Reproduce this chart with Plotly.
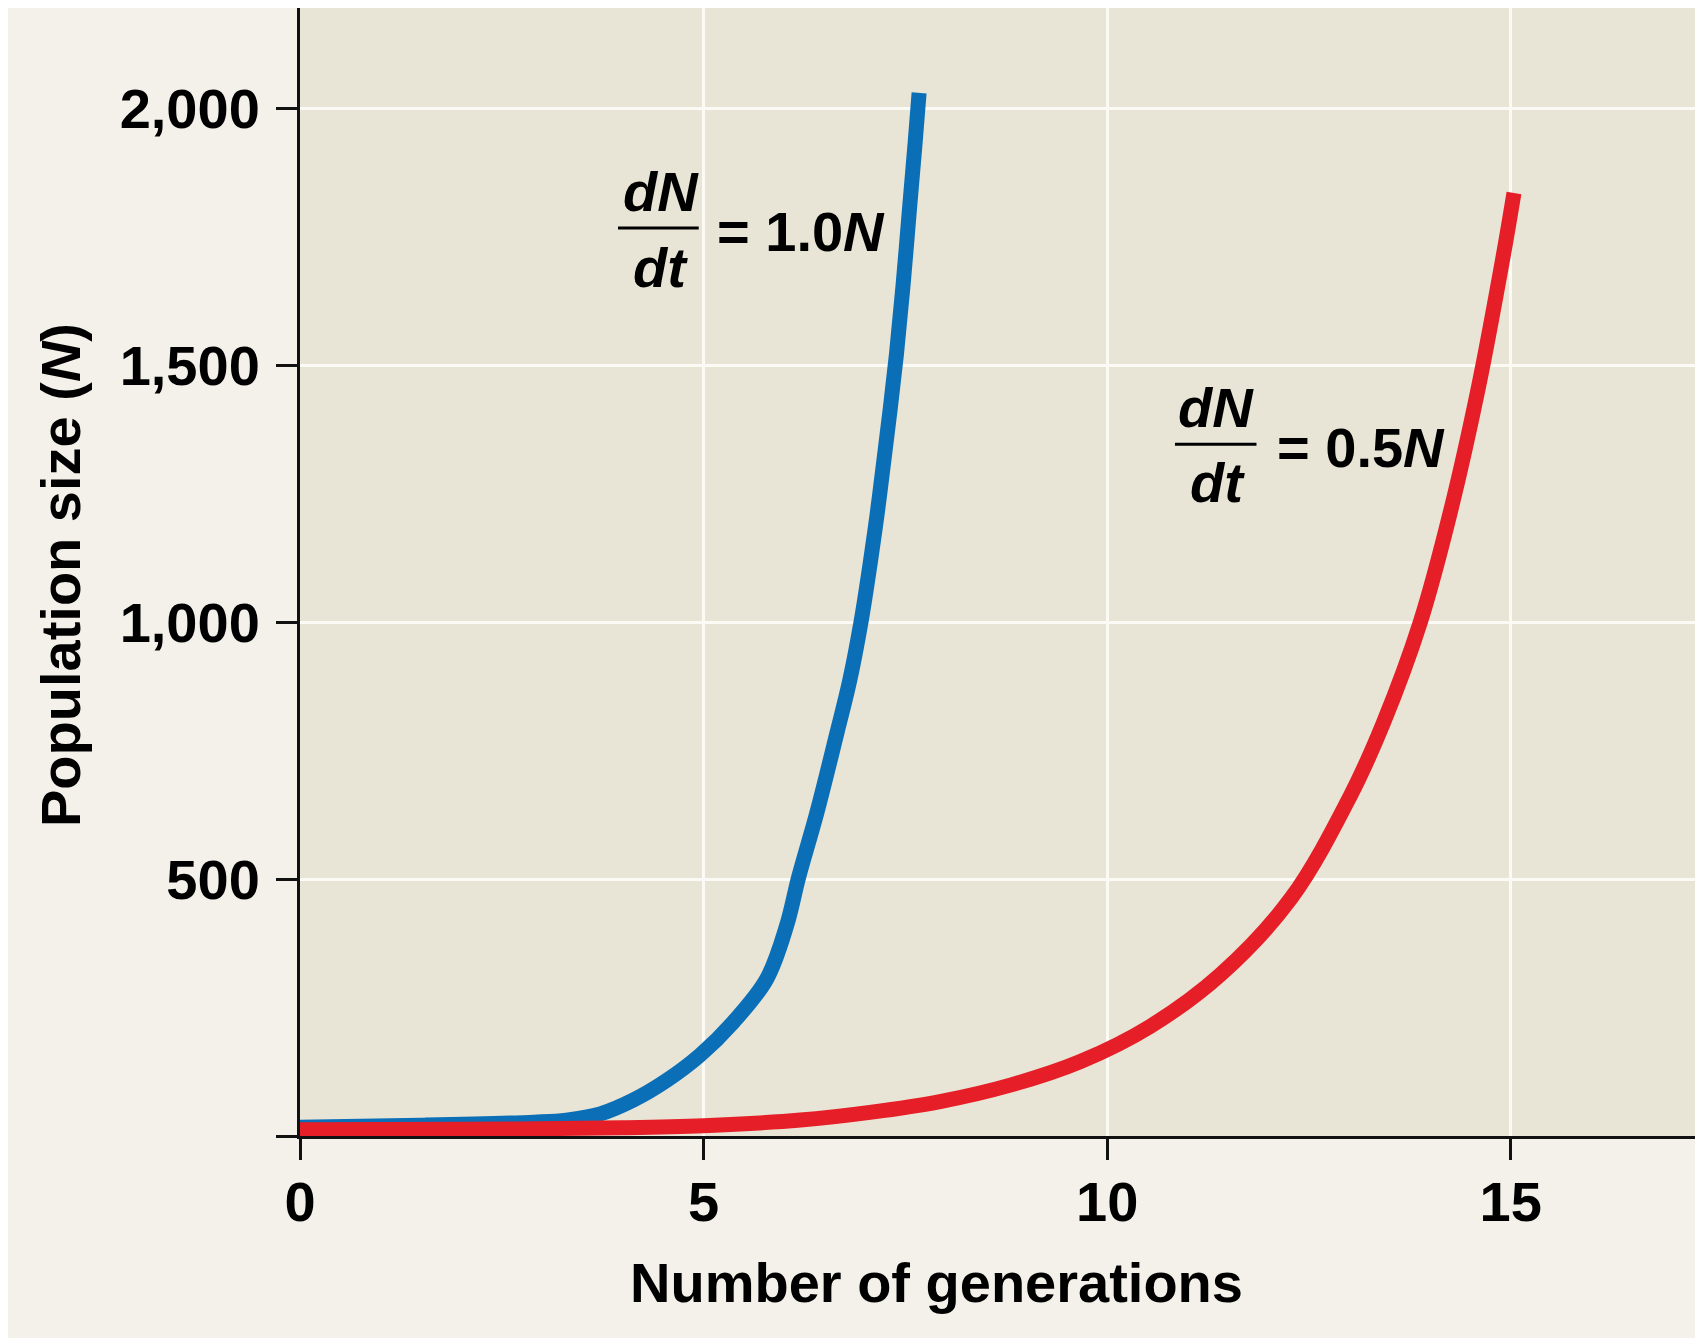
import plotly.graph_objects as go

# ---- data ----
blue_x = [0, 1.5, 2.9, 3.3, 3.72, 4.13, 4.54, 4.96, 5.37, 5.78, 6.03, 6.18, 6.40, 6.65,
          6.81, 6.95, 7.06, 7.15, 7.23, 7.31, 7.39, 7.47, 7.55, 7.62, 7.67]
blue_y = [17, 21, 27, 31, 43, 70, 108, 158, 222, 305, 410, 505, 627, 783,
          886, 1000, 1110, 1210, 1310, 1412, 1522, 1653, 1802, 1931, 2030]

red_x = [0, 2, 4, 5, 6.2, 7.06, 7.93, 8.8, 9.67, 10.54, 11.41, 12.28, 13.01, 13.42,
         13.88, 14.25, 14.6, 14.91, 15.04]
red_y = [12, 13, 16, 20, 31, 46, 67, 99, 145, 214, 315, 463, 661, 803,
         1000, 1213, 1457, 1715, 1835]

x_ticks = [0, 5, 10, 15]
x_tick_labels = ["0", "5", "10", "15"]
y_ticks = [0, 500, 1000, 1500, 2000]
y_tick_labels = ["", "500", "1,000", "1,500", "2,000"]

x_title = "Number of generations"
y_title = "Population size (<i>N</i>)"
label_fast = "= 1.0<i>N</i>"
label_slow = "= 0.5<i>N</i>"

FONT = "Liberation Sans, Arial, Helvetica, sans-serif"
BLUE = "#0b6fb8"
RED = "#e61e27"
PAGE = "#f3f1ea"
PLOT = "#e8e5d6"
FS = 56

fig = go.Figure()
fig.add_trace(go.Scatter(x=blue_x, y=blue_y, mode="lines",
                         line=dict(color=BLUE, width=15, shape="spline", smoothing=1.0),
                         hoverinfo="skip", showlegend=False))
fig.add_trace(go.Scatter(x=red_x, y=red_y, mode="lines",
                         line=dict(color=RED, width=15, shape="spline", smoothing=1.0),
                         hoverinfo="skip", showlegend=False))

tickfont = dict(family=FONT, size=FS, color="black", weight="bold")

fig.update_xaxes(range=[0, 17.32], tickvals=x_ticks, ticktext=x_tick_labels,
                 ticks="outside", ticklen=21, tickwidth=3, tickcolor="#111",
                 showline=True, linecolor="#111", linewidth=3,
                 showgrid=True, gridcolor="#fbfaf4", gridwidth=3, zeroline=False,
                 tickfont=tickfont, ticklabelstandoff=-6, fixedrange=True)
fig.update_yaxes(range=[0, 2195], tickvals=y_ticks, ticktext=y_tick_labels,
                 ticks="outside", ticklen=21, tickwidth=3, tickcolor="#111",
                 showline=True, linecolor="#111", linewidth=3,
                 showgrid=True, gridcolor="#fbfaf4", gridwidth=3, zeroline=False,
                 tickfont=tickfont, ticklabelstandoff=5, fixedrange=True)

txt = dict(family=FONT, size=FS, color="black", weight="bold")
itxt = dict(family=FONT, size=FS, color="black", weight="bold", style="italic")

annotations = [
    # axis titles
    dict(text=x_title, xref="paper", yref="paper", x=(936 - 300) / 1398, y=(1136 - 1282) / 1128,
         xanchor="center", yanchor="middle", showarrow=False, font=txt),
    dict(text=y_title, xref="paper", yref="paper", x=(60 - 300) / 1398, y=(1136 - 575) / 1128,
         xanchor="center", yanchor="middle", textangle=-90, showarrow=False, font=txt),
    # dN/dt = 1.0N
    dict(text="dN", x=4.47, y=1837, xanchor="center", yanchor="middle", showarrow=False, font=itxt),
    dict(text="dt", x=4.47, y=1690, xanchor="center", yanchor="middle", showarrow=False, font=itxt),
    dict(text=label_fast, x=5.14, y=1760, xanchor="left", yanchor="middle", showarrow=False, font=txt),
    # dN/dt = 0.5N
    dict(text="dN", x=11.35, y=1418, xanchor="center", yanchor="middle", showarrow=False, font=itxt),
    dict(text="dt", x=11.37, y=1271, xanchor="center", yanchor="middle", showarrow=False, font=itxt),
    dict(text=label_slow, x=12.08, y=1340, xanchor="left", yanchor="middle", showarrow=False, font=txt),
]

shapes = [
    dict(type="line", x0=3.94, x1=4.94, y0=1767, y1=1767, line=dict(color="black", width=3)),
    dict(type="line", x0=10.84, x1=11.85, y0=1346, y1=1346, line=dict(color="black", width=3)),
]

fig.update_layout(width=1690, height=1330,
                  margin=dict(l=292, r=0, t=0, b=202, autoexpand=False),
                  paper_bgcolor=PAGE, plot_bgcolor=PLOT,
                  annotations=annotations, shapes=shapes,
                  showlegend=False, hovermode=False)

fig.write_html("out.html", config={"displayModeBar": False, "staticPlot": True})
